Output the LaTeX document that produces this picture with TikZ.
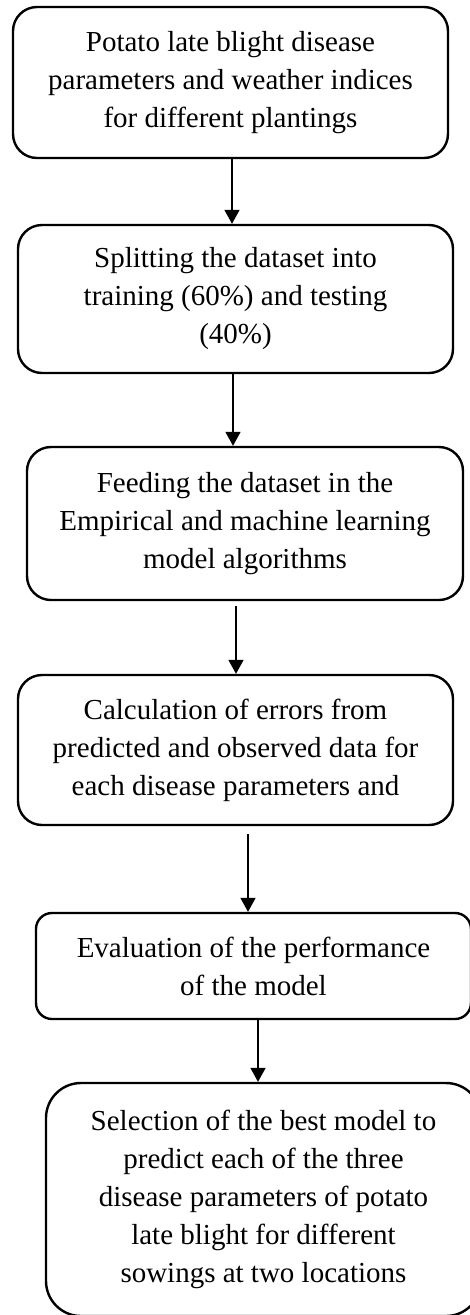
\documentclass[tikz,border=0pt]{standalone}
\usepackage{fontspec}
\setmainfont{Liberation Serif}
\usetikzlibrary{arrows.meta}
\begin{document}
\begin{tikzpicture}[x=1pt,y=-1pt,
    box/.style={draw,line width=2.4pt,rounded corners=24pt,align=center,inner sep=0pt,
      minimum width=435pt,font=\fontsize{29}{38}\selectfont},
    arr/.style={line width=1.8pt,-{Triangle[width=15pt,length=14pt]}}]
  \useasboundingbox (0,0) rectangle (470,1315);
  \node[box,minimum height=151pt] (data) at (230.5,82.5) {Potato late blight disease\\parameters and weather indices\\for different plantings};
  \node[box,minimum height=148pt] (split) at (235.5,299) {Splitting the dataset into\\training (60\%) and testing\\(40\%)};
  \node[box,minimum height=153pt,minimum width=436pt] (feed) at (245,523.5) {Feeding the dataset in the\\Empirical and machine learning\\model algorithms};
  \node[box,minimum height=150pt] (calc) at (235.5,750) {Calculation of errors from\\predicted and observed data for\\each disease parameters and};
  \node[box,minimum height=106pt,rounded corners=16pt] (eval) at (253.5,966) {Evaluation of the performance\\of the model};
  \node[box,minimum height=233pt,rounded corners=35pt] (best) at (263.5,1199.5) {Selection of the best model to\\predict each of the three\\disease parameters of potato\\late blight for different\\sowings at two locations};
  \draw[arr] ([xshift=1.5pt]data.south) coordinate (a1) -- (a1 |- split.north);
  \draw[arr] ([xshift=-2.5pt]split.south) coordinate (a2) -- (a2 |- feed.north);
  \draw[arr,shorten <=5pt] ([xshift=-9pt]feed.south) coordinate (a3) -- (a3 |- calc.north);
  \draw[arr,shorten <=8pt] ([xshift=12.5pt]calc.south) coordinate (a4) -- (a4 |- eval.north);
  \draw[arr] ([xshift=4.5pt]eval.south) coordinate (a5) -- (a5 |- best.north);
\end{tikzpicture}
\end{document}
